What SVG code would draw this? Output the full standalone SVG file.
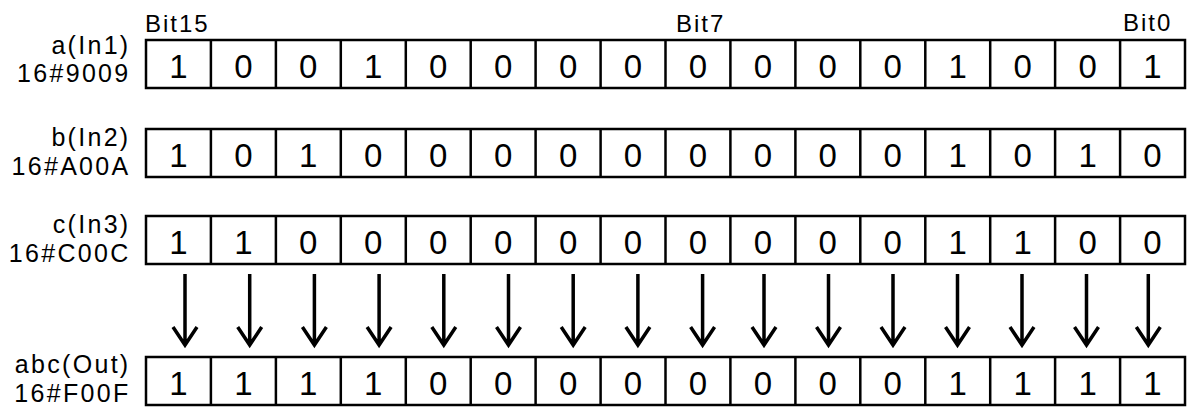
<svg xmlns="http://www.w3.org/2000/svg" width="1187" height="407" viewBox="0 0 1187 407">
<style>
.box{fill:#fff;stroke:#000;stroke-width:2.5}
.div{stroke:#000;stroke-width:2.5}
.bit{font-family:"Liberation Sans",Arial,sans-serif;font-size:33px;fill:#000;text-anchor:middle}
.lbl{font-family:"Liberation Sans",Arial,sans-serif;font-size:25px;fill:#000;text-anchor:end;letter-spacing:2.3px}
.hdr{font-family:"Liberation Sans",Arial,sans-serif;font-size:24px;fill:#000;letter-spacing:2px}
.arr{fill:none;stroke:#000;stroke-width:3.5}
</style>
<defs>
<g id="dividers">
<path class="div" d="M210.9 0V48M275.9 0V48M340.8 0V48M405.8 0V48M470.7 0V48M535.6 0V48M600.6 0V48M665.5 0V48M730.4 0V48M795.4 0V48M860.3 0V48M925.3 0V48M990.2 0V48M1055.1 0V48M1120.1 0V48"/>
</g>
</defs>
<g id="header">
<text class="hdr" x="145" y="31.5">Bit15</text>
<text class="hdr" x="676" y="31.5">Bit7</text>
<text class="hdr" x="1123" y="30.5">Bit0</text>
</g>
<g id="row-a">
<rect class="box" x="146" y="40" width="1039" height="48"/>
<use href="#dividers" y="40"/>
<text class="lbl" x="130.5" y="54">a(In1)</text>
<text class="lbl" x="130.5" y="82">16#9009</text>
<g class="bit" transform="translate(0,78)">
<text x="178.5">1</text><text x="243.4">0</text><text x="308.3">0</text><text x="373.3">1</text><text x="438.2">0</text><text x="503.2">0</text><text x="568.1">0</text><text x="633">0</text><text x="698">0</text><text x="762.9">0</text><text x="827.8">0</text><text x="892.8">0</text><text x="957.7">1</text><text x="1022.7">0</text><text x="1087.6">0</text><text x="1152.5">1</text>
</g>
</g>
<g id="row-b">
<rect class="box" x="146" y="129" width="1039" height="48"/>
<use href="#dividers" y="129"/>
<text class="lbl" x="130.5" y="146">b(In2)</text>
<text class="lbl" x="130.5" y="175">16#A00A</text>
<g class="bit" transform="translate(0,167)">
<text x="178.5">1</text><text x="243.4">0</text><text x="308.3">1</text><text x="373.3">0</text><text x="438.2">0</text><text x="503.2">0</text><text x="568.1">0</text><text x="633">0</text><text x="698">0</text><text x="762.9">0</text><text x="827.8">0</text><text x="892.8">0</text><text x="957.7">1</text><text x="1022.7">0</text><text x="1087.6">1</text><text x="1152.5">0</text>
</g>
</g>
<g id="row-c">
<rect class="box" x="146" y="216" width="1039" height="48"/>
<use href="#dividers" y="216"/>
<text class="lbl" x="130.5" y="233">c(In3)</text>
<text class="lbl" x="130.5" y="262">16#C00C</text>
<g class="bit" transform="translate(0,254)">
<text x="178.5">1</text><text x="243.4">1</text><text x="308.3">0</text><text x="373.3">0</text><text x="438.2">0</text><text x="503.2">0</text><text x="568.1">0</text><text x="633">0</text><text x="698">0</text><text x="762.9">0</text><text x="827.8">0</text><text x="892.8">0</text><text x="957.7">1</text><text x="1022.7">1</text><text x="1087.6">0</text><text x="1152.5">0</text>
</g>
</g>
<g id="row-out">
<rect class="box" x="146" y="357" width="1039" height="48"/>
<use href="#dividers" y="357"/>
<text class="lbl" x="130.5" y="373">abc(Out)</text>
<text class="lbl" x="130.5" y="402">16#F00F</text>
<g class="bit" transform="translate(0,395)">
<text x="178.5">1</text><text x="243.4">1</text><text x="308.3">1</text><text x="373.3">1</text><text x="438.2">0</text><text x="503.2">0</text><text x="568.1">0</text><text x="633">0</text><text x="698">0</text><text x="762.9">0</text><text x="827.8">0</text><text x="892.8">0</text><text x="957.7">1</text><text x="1022.7">1</text><text x="1087.6">1</text><text x="1152.5">1</text>
</g>
</g>
<g id="connectors" class="arr">
<path d="M185 274V344M173 327L185 345L197 327"/>
<path d="M249.7 274V344M237.7 327L249.7 345L261.7 327"/>
<path d="M314.4 274V344M302.4 327L314.4 345L326.4 327"/>
<path d="M379.1 274V344M367.1 327L379.1 345L391.1 327"/>
<path d="M443.8 274V344M431.8 327L443.8 345L455.8 327"/>
<path d="M508.5 274V344M496.5 327L508.5 345L520.5 327"/>
<path d="M573.2 274V344M561.2 327L573.2 345L585.2 327"/>
<path d="M637.9 274V344M625.9 327L637.9 345L649.9 327"/>
<path d="M702.6 274V344M690.6 327L702.6 345L714.6 327"/>
<path d="M764 274V344M752 327L764 345L776 327"/>
<path d="M828.5 274V344M816.5 327L828.5 345L840.5 327"/>
<path d="M893 274V344M881 327L893 345L905 327"/>
<path d="M957.5 274V344M945.5 327L957.5 345L969.5 327"/>
<path d="M1022 274V344M1010 327L1022 345L1034 327"/>
<path d="M1086.5 274V344M1074.5 327L1086.5 345L1098.5 327"/>
<path d="M1148.3 274V344M1136.3 327L1148.3 345L1160.3 327"/>
</g>
</svg>
